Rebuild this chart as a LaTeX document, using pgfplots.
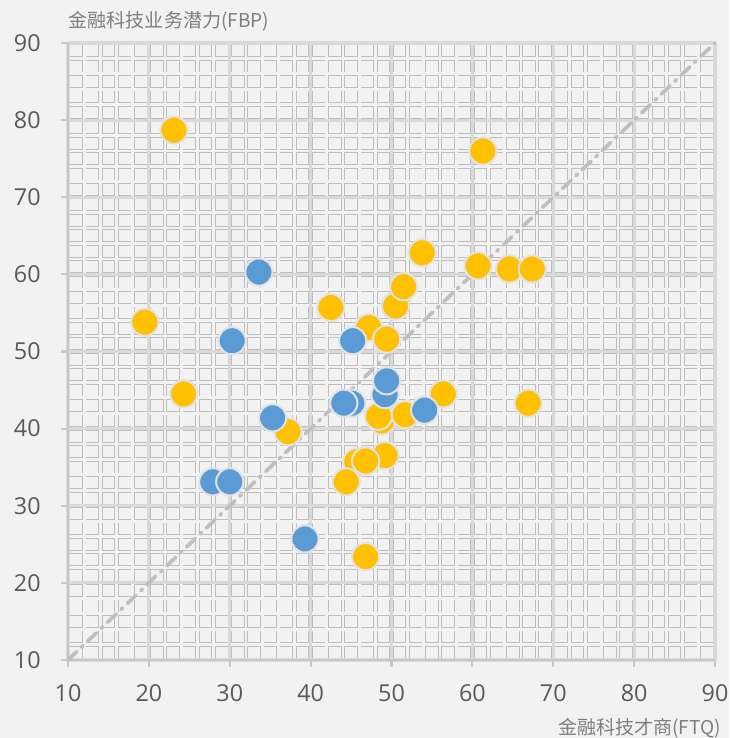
\documentclass[border=0pt]{standalone}
\usepackage{fontspec}
\setmainfont{Open Sans}
\newfontfamily\cjk{Noto Sans CJK SC}
\usepackage{pgfplots}
\pgfplotsset{compat=1.18}
\definecolor{bg}{HTML}{F2F2F2}
\definecolor{gridc}{HTML}{BEBEBE}
\definecolor{majc}{HTML}{D9D9D9}
\definecolor{axc}{HTML}{C8C8C8}
\definecolor{tickc}{HTML}{595959}
\definecolor{labc}{HTML}{7F7F7F}
\definecolor{yel}{HTML}{FFC000}
\definecolor{blu}{HTML}{5B9BD5}
\definecolor{ring}{HTML}{E2E2E2}
\definecolor{diag}{HTML}{BFBFBF}
\def\ux{6.065625pt}
\def\uy{5.784375pt}
\begin{document}
\begin{tikzpicture}
\fill[bg] (-51pt,-58.5pt) rectangle (495.75pt,495pt);
\useasboundingbox (-51pt,-58.5pt) rectangle (495.75pt,495pt);
% background grid of small squares
\foreach \v in {10,12,...,90}{
  \draw[gridc, line width=3.3pt] ({(\v-10)*\ux},0) -- ({(\v-10)*\ux},462.75pt);
  \draw[gridc, line width=3.3pt] (0,{(\v-10)*\uy}) -- (485.25pt,{(\v-10)*\uy});
}
\foreach \v in {12,14,16,18,22,24,26,28,32,34,36,38,42,44,46,48,52,54,56,58,62,64,66,68,72,74,76,78,82,84,86,88}{
  \draw[bg, line width=2.1pt] ({(\v-10)*\ux},0) -- ({(\v-10)*\ux},462.75pt);
  \draw[bg, line width=2.1pt] (0,{(\v-10)*\uy}) -- (485.25pt,{(\v-10)*\uy});
}
\foreach \v in {10,20,...,90}{
  \draw[majc, line width=2.3pt] ({(\v-10)*\ux},0) -- ({(\v-10)*\ux},462.75pt);
  \draw[majc, line width=2.3pt] (0,{(\v-10)*\uy}) -- (485.25pt,{(\v-10)*\uy});
}
\begin{axis}[
  at={(0,0)}, anchor=south west,
  scale only axis, width=485.25pt, height=462.75pt,
  xmin=10, xmax=90, ymin=10, ymax=90,
  xtick={10,20,...,90}, ytick={10,20,...,90},
  axis lines=left, axis line style={-, draw=axc, line width=2.2pt},
  tick align=outside, major tick length=5pt,
  every tick/.style={draw=axc, line width=1.6pt},
  ticklabel style={font=\fontsize{17.5}{20}\selectfont, text=tickc},
  /pgf/number format/assume math mode=true,
  xticklabel style={yshift=-10pt},
  yticklabel style={xshift=-12pt},
  every axis y label/.style={at={(rel axis cs:0,1)}, anchor=west, yshift=16.5pt, xshift=-3pt},
  every axis x label/.style={at={(rel axis cs:1,0)}, anchor=east, yshift=-51pt, xshift=8pt},
  ylabel={\cjk\fontsize{14.3}{16}\selectfont\color{labc}金融科技业务潜力(FBP)},
  xlabel={\cjk\fontsize{14.3}{16}\selectfont\color{labc}金融科技才商(FTQ)},
  clip=false,
]
\addplot[diag, line width=2.8pt, line cap=round, dash pattern=on 9pt off 5pt on 1.5pt off 5pt] coordinates {(10,10) (90,90)};
\addplot[only marks, mark=*, mark size=10.2pt, mark options={fill=yel, draw=ring, line width=1.5pt}] coordinates {
(23.1,78.7) (61.3,76.0) (19.5,53.8) (24.3,44.5) (37.2,39.6) (42.5,55.7)
(53.8,62.8) (50.5,55.9) (51.5,58.4) (47.2,53.1) (49.4,51.6) (60.7,61.1)
(64.6,60.7) (67.4,60.7) (56.4,44.5) (66.9,43.3) (48.8,41.0) (48.4,41.6)
(51.7,41.8) (49.2,36.5) (45.7,35.7) (46.8,35.8) (44.4,33.1) (46.8,23.4)
};
\addplot[only marks, mark=*, mark size=10.2pt, mark options={fill=blu, draw=ring, line width=1.5pt}] coordinates {
(33.6,60.3) (30.3,51.4) (45.2,51.4) (35.3,41.4) (45.1,43.3) (44.1,43.3)
(49.2,44.4) (49.4,46.2) (54.1,42.4) (27.9,33.1) (30.0,33.1) (39.3,25.7)
};
\end{axis}
\end{tikzpicture}
\end{document}
